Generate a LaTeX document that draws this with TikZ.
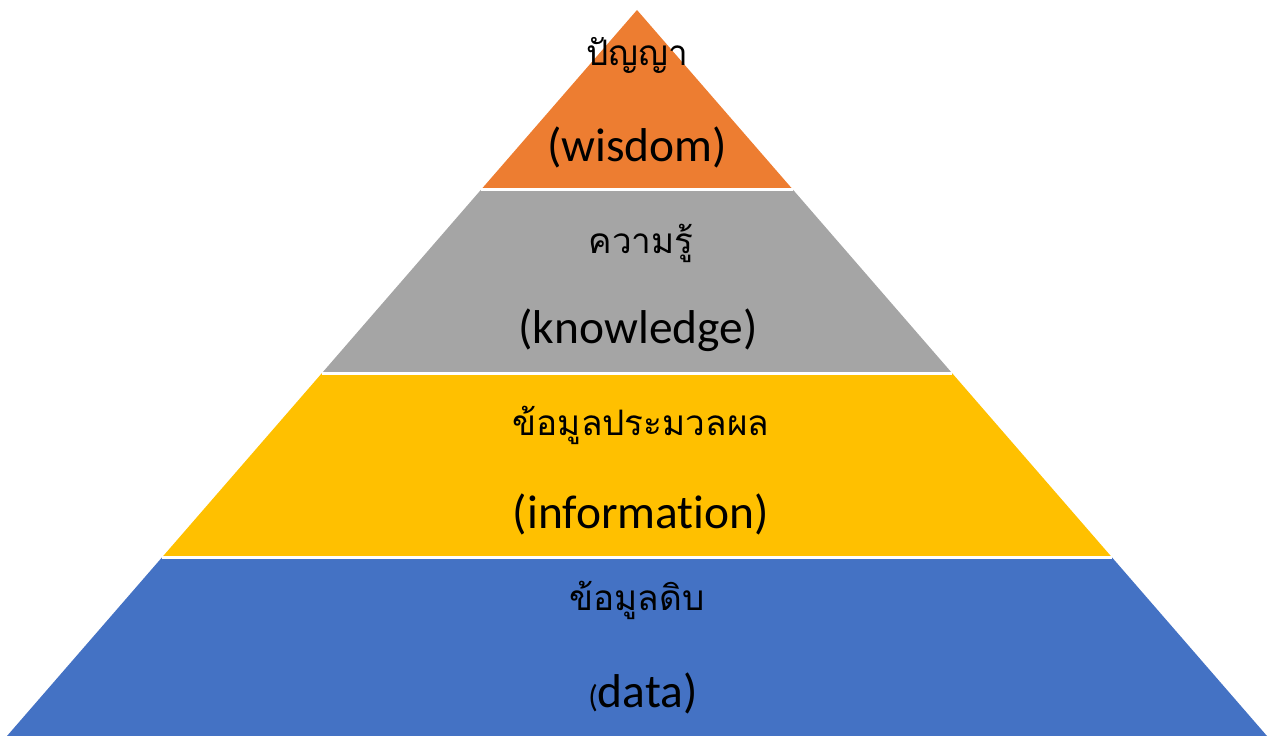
\documentclass[tikz,border=0pt]{standalone}
\usepackage{fontspec}
\setmainfont{Carlito}[Ligatures=NoCommon]
\newfontfamily\thaifont[Script=Thai]{Loma}
\definecolor{wisdomorange}{HTML}{ED7D31}
\definecolor{knowgray}{HTML}{A5A5A5}
\definecolor{infoyellow}{HTML}{FFC000}
\definecolor{datablue}{HTML}{4472C4}

\begin{document}
\begin{tikzpicture}
[x=0.02cm, y=-0.02cm, layer/.style={draw=white, line width=1.6pt, line join=miter},
 thai/.style={font=\thaifont\fontsize{20}{24}\selectfont, text=black},
 eng/.style={font=\fontsize{27}{32}\selectfont, text=black}]
    \useasboundingbox (0, 0) rectangle (1275, 736);
    \coordinate (top) at (637, 10);
    \coordinate (l1) at (481.2, 189.5);
    \coordinate (r1) at (792.8, 189.5);
    \coordinate (l2) at (321.6, 373.5);
    \coordinate (r2) at (952.4, 373.5);
    \coordinate (l3) at (161.9, 557.5);
    \coordinate (r3) at (1112.1, 557.5);
    \coordinate (l4) at (7, 736);
    \coordinate (r4) at (1267, 736);
    % layers
    \fill[datablue] (l3) -- (r3) -- (r4) -- (l4) -- cycle;
    \fill[infoyellow] (l2) -- (r2) -- (r3) -- (l3) -- cycle;
    \fill[knowgray] (l1) -- (r1) -- (r2) -- (l2) -- cycle;
    \fill[wisdomorange] (top) -- (r1) -- (l1) -- cycle;
    % gaps
    \draw[layer] (l1) -- (r1);
    \draw[layer] (l2) -- (r2);
    \draw[layer] (l3) -- (r3);
    % labels
    \node[thai] (wisdomth) at (637, 55) {ปัญญา};
    \node[eng] (wisdomen) at (637, 147) {(wisdom)};
    \node[thai] (knowth) at (641, 243) {ความรู้};
    \node[eng] (knowen) at (638, 330) {(knowledge)};
    \node[thai] (infoth) at (641, 425) {ข้อมูลประมวลผล};
    \node[eng] (infoen) at (641, 514) {(information)};
    \node[thai] (datath) at (637, 600) {ข้อมูลดิบ};
    \node[eng] (dataen) at (643, 693) {{\fontsize{18}{20}\selectfont(}data)};
\end{tikzpicture}
\end{document}
